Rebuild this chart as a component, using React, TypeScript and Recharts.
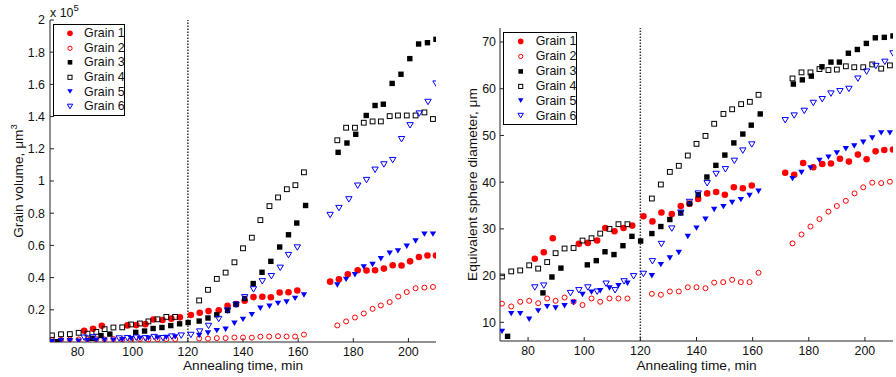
import React from 'react';
import { ScatterChart, Scatter, XAxis, YAxis, ReferenceLine, Legend } from 'recharts';

// Annealing time (min) for each grain, and the two measured quantities:
// volume in units of 10^5 µm³ and equivalent sphere diameter in µm.
const grain1Time = [82.4, 85.6, 88.8, 98.1, 101.3, 104.6, 107.5, 110.8, 114.0, 117.1, 121.1, 124.3, 127.5, 131.2, 134.4, 137.5, 140.6, 143.8, 147.0, 150.1, 153.3, 156.5, 159.7, 171.6, 174.8, 178.0, 181.6, 184.8, 187.9, 191.1, 194.3, 197.5, 200.6, 203.8, 206.9, 210.0];
const grain1Volume = [0.070, 0.082, 0.101, 0.103, 0.105, 0.111, 0.140, 0.137, 0.145, 0.153, 0.168, 0.182, 0.192, 0.197, 0.225, 0.236, 0.256, 0.279, 0.281, 0.278, 0.307, 0.309, 0.320, 0.375, 0.390, 0.421, 0.446, 0.444, 0.446, 0.456, 0.477, 0.475, 0.501, 0.528, 0.537, 0.537];
const grain1Diameter = [23.6, 25.0, 28.0, 26.8, 27.0, 27.5, 30.2, 29.5, 30.2, 30.7, 32.7, 31.6, 33.5, 33.2, 34.9, 35.4, 36.4, 37.6, 37.9, 37.3, 38.9, 38.7, 39.3, 42.0, 41.6, 44.1, 43.2, 43.9, 44.0, 45.0, 44.4, 45.9, 44.9, 46.6, 46.9, 47.0];

const grain2Time = [70.7, 74.0, 77.2, 80.4, 83.6, 86.8, 89.8, 93.0, 96.2, 99.4, 102.6, 105.7, 109.0, 112.2, 115.4, 124.1, 127.3, 130.5, 133.7, 136.9, 140.0, 143.2, 146.3, 149.5, 152.7, 155.8, 158.9, 162.1, 174.2, 177.4, 180.6, 183.8, 187.0, 190.0, 193.2, 196.3, 199.4, 202.6, 205.8, 208.9];
const grain2Volume = [0.014, 0.013, 0.016, 0.016, 0.015, 0.018, 0.016, 0.019, 0.016, 0.013, 0.018, 0.016, 0.018, 0.018, 0.018, 0.022, 0.021, 0.024, 0.024, 0.028, 0.028, 0.027, 0.033, 0.034, 0.036, 0.034, 0.034, 0.046, 0.103, 0.128, 0.152, 0.177, 0.206, 0.227, 0.248, 0.282, 0.310, 0.334, 0.338, 0.342];
const grain2Diameter = [14.0, 13.4, 14.4, 14.6, 14.1, 15.1, 14.6, 15.3, 14.4, 13.7, 15.1, 14.4, 15.1, 15.1, 15.1, 16.1, 15.9, 16.6, 16.6, 17.5, 17.5, 17.3, 18.5, 18.6, 19.1, 18.6, 18.6, 20.6, 26.9, 28.8, 30.5, 32.1, 33.7, 34.9, 36.0, 37.6, 38.9, 39.9, 39.8, 40.1];

const grain3Time = [72.7, 85.3, 88.5, 91.7, 101.1, 104.3, 107.4, 110.6, 113.8, 117.0, 120.1, 124.1, 127.3, 130.5, 134.4, 137.5, 140.6, 143.7, 146.9, 150.1, 153.3, 156.5, 159.5, 162.7, 174.5, 177.7, 180.9, 184.7, 187.9, 190.9, 194.1, 197.3, 200.5, 203.7, 206.9, 210.0];
const grain3Volume = [0.002, 0.023, 0.040, 0.049, 0.060, 0.068, 0.084, 0.090, 0.102, 0.113, 0.121, 0.130, 0.149, 0.169, 0.196, 0.233, 0.270, 0.363, 0.433, 0.501, 0.590, 0.666, 0.739, 0.848, 1.178, 1.236, 1.290, 1.407, 1.469, 1.477, 1.606, 1.663, 1.760, 1.851, 1.859, 1.880];
const grain3Diameter = [7.0, 16.3, 19.7, 21.6, 22.3, 23.2, 25.1, 24.5, 26.4, 28.4, 27.4, 29.0, 30.5, 32.0, 33.4, 35.4, 37.3, 41.1, 43.6, 45.8, 48.4, 50.3, 52.2, 54.6, 61.0, 61.9, 62.7, 64.7, 65.7, 65.7, 67.6, 68.4, 69.7, 70.9, 71.0, 71.3];

const grain4Time = [70.7, 74.0, 77.2, 80.4, 83.6, 86.8, 89.8, 93.0, 96.2, 99.4, 102.6, 105.7, 109.0, 112.2, 115.4, 124.1, 127.3, 130.5, 133.7, 136.9, 140.0, 143.2, 146.3, 149.6, 152.7, 155.9, 159.0, 162.1, 174.2, 177.4, 180.6, 183.8, 187.0, 190.0, 193.2, 196.2, 199.4, 202.6, 205.8, 208.9];
const grain4Volume = [0.041, 0.048, 0.049, 0.057, 0.052, 0.063, 0.080, 0.090, 0.091, 0.109, 0.115, 0.128, 0.141, 0.156, 0.156, 0.258, 0.324, 0.392, 0.431, 0.495, 0.582, 0.648, 0.757, 0.844, 0.898, 0.949, 0.974, 1.054, 1.253, 1.331, 1.331, 1.362, 1.370, 1.370, 1.403, 1.407, 1.407, 1.407, 1.426, 1.385];
const grain4Diameter = [19.8, 20.9, 21.1, 22.2, 21.5, 22.9, 24.8, 25.8, 25.9, 27.5, 28.0, 29.0, 30.0, 31.0, 31.0, 36.5, 39.5, 42.2, 43.5, 45.7, 48.2, 49.9, 52.5, 54.6, 55.6, 56.7, 57.2, 58.7, 62.2, 63.5, 63.5, 64.2, 64.0, 64.1, 64.8, 64.6, 64.6, 65.2, 64.3, 65.0];

const grain5Time = [70.7, 74.0, 77.2, 80.4, 83.6, 86.8, 89.8, 93.0, 96.2, 99.4, 102.6, 105.7, 109.0, 112.2, 115.4, 124.1, 127.3, 130.5, 133.7, 136.9, 140.0, 143.2, 146.3, 149.6, 152.7, 155.8, 158.9, 162.1, 174.2, 177.4, 180.6, 183.8, 187.0, 190.0, 193.2, 196.2, 199.4, 202.6, 205.8, 208.9];
const grain5Volume = [0.003, 0.009, 0.009, 0.006, 0.010, 0.013, 0.012, 0.013, 0.015, 0.021, 0.024, 0.025, 0.027, 0.030, 0.033, 0.042, 0.057, 0.072, 0.080, 0.118, 0.142, 0.171, 0.211, 0.223, 0.241, 0.250, 0.272, 0.293, 0.355, 0.390, 0.419, 0.468, 0.483, 0.518, 0.553, 0.567, 0.596, 0.629, 0.671, 0.671];
const grain5Diameter = [8.1, 11.9, 11.9, 10.7, 12.5, 13.4, 13.1, 13.6, 14.3, 16.0, 16.5, 16.8, 17.4, 17.9, 18.4, 20.0, 22.4, 23.8, 25.0, 28.4, 30.2, 32.1, 34.2, 34.8, 35.7, 36.3, 37.2, 38.1, 40.8, 42.1, 43.1, 44.7, 45.4, 46.3, 47.2, 47.8, 48.6, 49.5, 50.6, 50.6];

const grain6Time = [82.4, 85.6, 95.1, 98.1, 101.3, 104.6, 107.8, 111.0, 114.2, 117.6, 121.1, 124.3, 127.5, 131.2, 134.4, 137.5, 140.6, 143.8, 147.0, 150.3, 153.5, 156.5, 159.7, 171.6, 174.8, 178.4, 181.6, 184.8, 187.9, 191.1, 194.3, 197.5, 200.6, 203.9, 207.1, 210.0];
const grain6Volume = [0.028, 0.030, 0.023, 0.025, 0.028, 0.024, 0.032, 0.025, 0.035, 0.041, 0.045, 0.066, 0.101, 0.144, 0.196, 0.233, 0.279, 0.328, 0.378, 0.410, 0.462, 0.541, 0.588, 0.790, 0.833, 0.887, 0.972, 1.007, 1.071, 1.104, 1.131, 1.261, 1.347, 1.420, 1.492, 1.606];
const grain6Diameter = [17.5, 17.9, 16.3, 16.9, 17.5, 16.6, 18.3, 16.9, 18.8, 19.9, 20.4, 23.1, 26.8, 30.1, 33.5, 35.8, 37.6, 39.8, 41.8, 42.8, 44.6, 46.8, 48.1, 53.3, 54.3, 55.3, 57.0, 57.8, 59.0, 59.5, 60.0, 62.2, 63.7, 64.9, 65.8, 67.6];

const TIME_TICKS = [80, 100, 120, 140, 160, 180, 200];
const VOLUME_TICKS = [0.2, 0.4, 0.6, 0.8, 1, 1.2, 1.4, 1.6, 1.8, 2];
const DIAMETER_TICKS = [10, 20, 30, 40, 50, 60, 70];
const HEAT_STEP_TIME = 120;

const FONT = '"Liberation Sans", Arial, Helvetica, sans-serif';
const INK = '#111';
const RED = '#ff0000';
const BLUE = '#0000ff';
const TICK_FONT = 12.4;
const LABEL_FONT = 13.7;

type MarkerKind = 'dot' | 'ring' | 'square' | 'box' | 'tri' | 'triOpen';

interface Grain {
  name: string;
  marker: MarkerKind;
  color: string;
  time: number[];
  volume: number[];
  diameter: number[];
}

const GRAINS: Grain[] = [
  { name: 'Grain 1', marker: 'dot', color: RED, time: grain1Time, volume: grain1Volume, diameter: grain1Diameter },
  { name: 'Grain 2', marker: 'ring', color: RED, time: grain2Time, volume: grain2Volume, diameter: grain2Diameter },
  { name: 'Grain 3', marker: 'square', color: '#000', time: grain3Time, volume: grain3Volume, diameter: grain3Diameter },
  { name: 'Grain 4', marker: 'box', color: '#000', time: grain4Time, volume: grain4Volume, diameter: grain4Diameter },
  { name: 'Grain 5', marker: 'tri', color: BLUE, time: grain5Time, volume: grain5Volume, diameter: grain5Diameter },
  { name: 'Grain 6', marker: 'triOpen', color: BLUE, time: grain6Time, volume: grain6Volume, diameter: grain6Diameter },
];

const Marker = ({ kind, cx, cy, s = 1 }: { kind: MarkerKind; cx: number; cy: number; s?: number }) => {
  if (cx == null || cy == null) return null;
  const tri = `${cx - 3.2 * s},${cy - 2.5 * s} ${cx + 3.2 * s},${cy - 2.5 * s} ${cx},${cy + 2.9 * s}`;
  switch (kind) {
    case 'dot':
      return <circle cx={cx} cy={cy} r={3.3 * s} fill={RED} />;
    case 'ring':
      return <circle cx={cx} cy={cy} r={2.5 * s} fill="none" stroke={RED} strokeWidth={1} />;
    case 'square':
      return <rect x={cx - 2.7 * s} y={cy - 2.7 * s} width={5.4 * s} height={5.4 * s} fill="#000" />;
    case 'box':
      return <rect x={cx - 2.4 * s} y={cy - 2.4 * s} width={4.8 * s} height={4.8 * s} fill="none" stroke="#000" strokeWidth={1} />;
    case 'tri':
      return <polygon points={tri} fill={BLUE} />;
    default:
      return <polygon points={tri} fill="none" stroke={BLUE} strokeWidth={1} />;
  }
};

// boxed legend, one row per grain
const makeLegend = (rowH: number, markerX: number, textX: number, width: number) => (props: any) => (
  <div
    style={{
      boxSizing: 'border-box',
      width,
      border: '1px solid #000',
      background: '#fff',
      padding: '1px 0',
      fontFamily: FONT,
      fontSize: TICK_FONT,
      color: INK,
    }}
  >
    {(props.payload || []).map((item: any) => {
      const g = GRAINS.find((x) => x.name === item.value);
      return (
        <div key={item.value} style={{ display: 'flex', alignItems: 'center', height: rowH, whiteSpace: 'nowrap' }}>
          <svg width={textX} height={rowH} style={{ flex: 'none' }}>
            {g && <Marker kind={g.marker} cx={markerX} cy={rowH / 2} s={0.85} />}
          </svg>
          <span>{item.value}</span>
        </div>
      );
    })}
  </div>
);

const volumeLabel = (props: any) => {
  const vb = props.viewBox || {};
  const cy = vb.height ? vb.y + vb.height / 2 : 181;
  const cx = 18;
  return (
    <g>
      <text x={cx} y={cy} transform={`rotate(-90 ${cx} ${cy})`} textAnchor="middle" dominantBaseline="central" fontSize={LABEL_FONT} fill={INK}>
        Grain volume, μm<tspan dy={-5} fontSize={9.5}>3</tspan>
      </text>
      <text x={50} y={17} fontSize={TICK_FONT} fill={INK}>
        x 10<tspan dy={-6} fontSize={9.5}>5</tspan>
      </text>
    </g>
  );
};

const diameterLabel = (props: any) => {
  const vb = props.viewBox || {};
  const cy = vb.height ? vb.y + vb.height / 2 : 184;
  const cx = 27;
  return (
    <text x={cx} y={cy} transform={`rotate(-90 ${cx} ${cy})`} textAnchor="middle" dominantBaseline="central" fontSize={LABEL_FONT} fill={INK}>
      Equivalent sphere diameter, μm
    </text>
  );
};

interface PanelProps {
  width: number;
  margin: { top: number; right: number; bottom: number; left: number };
  yWidth: number;
  xHeight: number;
  yDomain: [number, number];
  yTicks: number[];
  yTickMargin: number;
  yLabel: (p: any) => React.ReactElement;
  field: 'volume' | 'diameter';
  legendPos: { left: number; top: number };
  legend: (p: any) => React.ReactElement;
}

const Panel = ({ width, margin, yWidth, xHeight, yDomain, yTicks, yTickMargin, yLabel, field, legendPos, legend }: PanelProps) => (
  <ScatterChart width={width} height={377} margin={margin}>
    <XAxis
      type="number"
      dataKey="t"
      domain={[70, 210]}
      ticks={TIME_TICKS}
      interval={0}
      allowDataOverflow
      height={xHeight}
      tickSize={-4}
      tickMargin={9.5}
      tick={{ fontSize: TICK_FONT, fill: INK }}
      axisLine={{ stroke: '#222' }}
      tickLine={{ stroke: '#222' }}
      label={{ value: 'Annealing time, min', position: 'insideBottom', offset: 7, fontSize: LABEL_FONT, fill: INK }}
    />
    <YAxis
      type="number"
      dataKey="v"
      domain={yDomain}
      ticks={yTicks}
      interval={0}
      allowDataOverflow
      width={yWidth}
      tickSize={-4}
      tickMargin={yTickMargin}
      tick={{ fontSize: TICK_FONT, fill: INK }}
      tickFormatter={(v: number) => String(v)}
      axisLine={{ stroke: '#222' }}
      tickLine={{ stroke: '#222' }}
      label={yLabel}
    />
    <ReferenceLine x={HEAT_STEP_TIME} stroke="#333" strokeWidth={1.5} strokeDasharray="1.5 1.5" />
    {GRAINS.map((g) => (
      <Scatter
        key={g.name}
        name={g.name}
        data={g.time.map((t, i) => ({ t, v: g[field][i] }))}
        fill={g.color}
        isAnimationActive={false}
        shape={(p: any) => <Marker kind={g.marker} cx={p.cx} cy={p.cy} />}
      />
    ))}
    <Legend
      layout="vertical"
      align="center"
      verticalAlign="middle"
      content={legend}
      wrapperStyle={{ left: legendPos.left, top: legendPos.top, width: 'auto', height: 'auto' }}
    />
  </ScatterChart>
);

export default function App() {
  return (
    <div style={{ position: 'absolute', left: 0, top: 0, width: 896, height: 377, background: '#fff', fontFamily: FONT, overflow: 'hidden' }}>
      <div style={{ position: 'absolute', left: 0, top: 0 }}>
        <Panel
          width={445}
          margin={{ top: 20, right: 9, bottom: 0, left: 0 }}
          yWidth={50}
          xHeight={35}
          yDomain={[0, 2]}
          yTicks={VOLUME_TICKS}
          yTickMargin={9}
          yLabel={volumeLabel}
          field="volume"
          legendPos={{ left: 53, top: 24 }}
          legend={makeLegend(14.6, 16, 30, 72)}
        />
      </div>
      <div style={{ position: 'absolute', left: 445, top: 0 }}>
        <Panel
          width={451}
          margin={{ top: 28, right: 3, bottom: 0, left: 0 }}
          yWidth={55}
          xHeight={36}
          yDomain={[6, 73]}
          yTicks={DIAMETER_TICKS}
          yTickMargin={8}
          yLabel={diameterLabel}
          field="diameter"
          legendPos={{ left: 58, top: 32 }}
          legend={makeLegend(14.85, 16.7, 31.7, 74)}
        />
      </div>
    </div>
  );
}
